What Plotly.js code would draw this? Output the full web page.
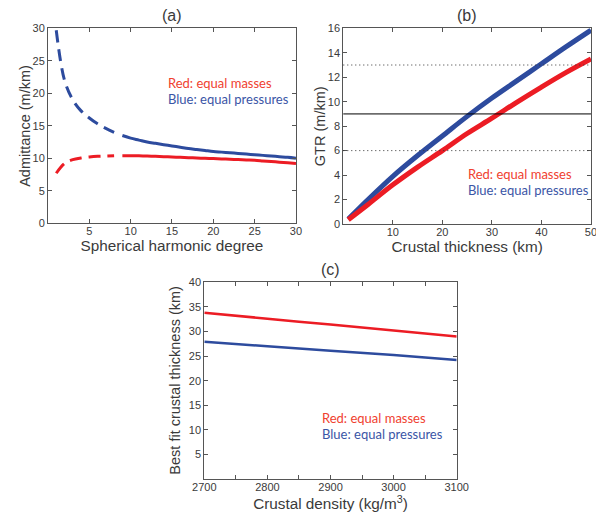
<!DOCTYPE html>
<html>
<head>
<meta charset="utf-8">
<script src="https://cdn.plot.ly/plotly-3.0.1.min.js"></script>
<style>html,body{margin:0;padding:0;background:#fff;}#chart{width:596px;height:512px;}</style>
</head>
<body>
<div id="chart"></div>
<script>
// Panel (a): admittance vs spherical harmonic degree
const degreeDashed = [1, 2, 3, 4, 5, 6, 7, 8];
const blueDashed   = [29.7, 22.0, 19.0, 17.3, 16.2, 15.3, 14.6, 14.0];
const redDashed    = [7.7, 9.2, 9.8, 10.05, 10.2, 10.3, 10.35, 10.4];
const degreeSolid  = [9, 10, 11, 12, 13, 14, 15, 16, 17, 18, 19, 20, 21, 22, 23, 24, 25, 26, 27, 28, 29, 30];
const blueSolid    = [13.5, 13.1, 12.8, 12.5, 12.3, 12.1, 11.9, 11.7, 11.5, 11.35, 11.2, 11.05, 10.95, 10.85, 10.75, 10.65, 10.55, 10.45, 10.35, 10.25, 10.15, 10.0];
const redSolid     = [10.4, 10.4, 10.38, 10.35, 10.3, 10.25, 10.2, 10.15, 10.1, 10.05, 10.0, 9.95, 9.9, 9.85, 9.8, 9.75, 9.7, 9.6, 9.5, 9.4, 9.3, 9.2];

// Panel (b): GTR vs crustal thickness
const thickness = [1, 5, 10, 15, 20, 25, 30, 35, 40, 45, 50];
const gtrBlue   = [0.4, 2.0, 3.9, 5.6, 7.2, 8.8, 10.3, 11.7, 13.1, 14.5, 15.85];
const gtrRed    = [0.35, 1.6, 3.2, 4.65, 6.0, 7.4, 8.65, 9.95, 11.2, 12.4, 13.5];
const gtrObserved = 9;
const gtrLow = 6;
const gtrHigh = 13;

// Panel (c): best-fit crustal thickness vs crustal density
const density   = [2700, 2800, 2900, 3000, 3100];
const bestRed   = [33.8, 32.6, 31.4, 30.2, 29.0];
const bestBlue  = [27.9, 27.0, 26.1, 25.2, 24.2];

// Labels
const titles = ["(a)", "(b)", "(c)"];
const xTitles = ["Spherical harmonic degree", "Crustal thickness (km)", "Crustal density (kg/m<sup>3</sup>)"];
const yTitles = ["Admittance (m/km)", "GTR (m/km)", "Best fit crustal thickness (km)"];
const legendRed = "Red: equal masses";
const legendBlue = "Blue: equal pressures";

const RED = "#ec1c24", BLUE = "#2d4b9e";
const RED_TXT = "#f0412f", BLUE_TXT = "#3a55a6";
const FONT = "Liberation Sans, Arial, sans-serif";
const LFONT = "Lato, sans-serif";
const TXT = "#3a3a3a";

const traces = [
  {x: degreeDashed, y: blueDashed, xaxis: "x", yaxis: "y", mode: "lines", line: {color: BLUE, width: 3, dash: "12px,7px", shape: "spline"}},
  {x: degreeDashed, y: redDashed, xaxis: "x", yaxis: "y", mode: "lines", line: {color: RED, width: 3, dash: "12px,7px", shape: "spline"}},
  {x: degreeSolid, y: blueSolid, xaxis: "x", yaxis: "y", mode: "lines", line: {color: BLUE, width: 3, shape: "spline"}},
  {x: degreeSolid, y: redSolid, xaxis: "x", yaxis: "y", mode: "lines", line: {color: RED, width: 3, shape: "spline"}},
  {x: thickness, y: gtrBlue, xaxis: "x2", yaxis: "y2", mode: "lines", line: {color: BLUE, width: 5, shape: "spline"}},
  {x: thickness, y: gtrRed, xaxis: "x2", yaxis: "y2", mode: "lines", line: {color: RED, width: 5, shape: "spline"}},
  {x: density, y: bestRed, xaxis: "x3", yaxis: "y3", mode: "lines", line: {color: RED, width: 2.5, shape: "spline"}},
  {x: density, y: bestBlue, xaxis: "x3", yaxis: "y3", mode: "lines", line: {color: BLUE, width: 2.5, shape: "spline"}}
];

function ax(domain, range, tickvals, anchor, extra) {
  return Object.assign({
    domain: domain, range: range, tickvals: tickvals, anchor: anchor,
    showgrid: false, zeroline: false, showline: true, mirror: "ticks",
    linecolor: "#555", linewidth: 1, ticks: "inside", ticklen: 4, tickcolor: "#555",
    ticklabeloverflow: "allow",
    tickfont: {family: FONT, size: 11, color: TXT}
  }, extra || {});
}
function xt(text, standoff) {
  return {text: text, font: {family: FONT, size: 15.3, color: TXT}, standoff: standoff};
}
function ytitle(text, xpx, yref) {
  return {text: text, xref: "paper", yref: yref, x: xpx / 596, y: 0.5, xanchor: "center", yanchor: "middle",
          textangle: -90, showarrow: false, font: {family: FONT, size: 14.5, color: TXT}};
}

const layout = {
  width: 596, height: 512,
  margin: {l: 0, r: 0, t: 0, b: 0},
  paper_bgcolor: "#fff", plot_bgcolor: "#fff",
  showlegend: false,
  xaxis:  ax([0.0805, 0.4966], [0, 30], [5, 10, 15, 20, 25, 30], "y", {title: xt(xTitles[0], 0), ticklabelstandoff: -2}),
  yaxis:  ax([0.5639, 0.9447], [0, 30], [0, 5, 10, 15, 20, 25, 30], "x"),
  xaxis2: ax([0.576, 0.9916], [0, 50], [10, 20, 30, 40, 50], "y2", {title: xt(xTitles[1], 1), ticklabelstandoff: -2}),
  yaxis2: ax([0.5625, 0.9447], [0, 16], [0, 2, 4, 6, 8, 10, 12, 14, 16], "x2"),
  xaxis3: ax([0.3428, 0.7663], [2700, 3100], [2700, 2750, 2800, 2850, 2900, 2950, 3000, 3050, 3100], "y3",
             {ticktext: ["2700", " ", "2800", " ", "2900", " ", "3000", " ", "3100"], ticklabelstandoff: -2, title: xt(xTitles[2], 3)}),
  yaxis3: ax([0.0645, 0.4486], [0, 40], [5, 10, 15, 20, 25, 30, 35, 40], "x3"),
  shapes: [
    {type: "line", xref: "x2 domain", yref: "y2", x0: 0, x1: 1, y0: gtrObserved, y1: gtrObserved, line: {color: "#000", width: 1}},
    {type: "line", xref: "x2 domain", yref: "y2", x0: 0, x1: 1, y0: gtrLow, y1: gtrLow, line: {color: "#333", width: 1, dash: "1px,3px"}},
    {type: "line", xref: "x2 domain", yref: "y2", x0: 0, x1: 1, y0: gtrHigh, y1: gtrHigh, line: {color: "#333", width: 1, dash: "1px,3px"}}
  ],
  annotations: [
    ytitle(yTitles[0], 25, "y domain"),
    ytitle(yTitles[1], 320, "y2 domain"),
    ytitle(yTitles[2], 175, "y3 domain"),
    {text: titles[0], xref: "x domain", yref: "y domain", x: 0.5, y: 1, yanchor: "bottom", yshift: 2, showarrow: false, font: {family: FONT, size: 16, color: TXT}},
    {text: titles[1], xref: "x2 domain", yref: "y2 domain", x: 0.5, y: 1, yanchor: "bottom", yshift: 2, showarrow: false, font: {family: FONT, size: 16, color: TXT}},
    {text: titles[2], xref: "x3 domain", yref: "y3 domain", x: 0.5, y: 1, yanchor: "bottom", yshift: 2, showarrow: false, font: {family: FONT, size: 16, color: TXT}},
    {text: legendRed, xref: "x domain", yref: "y domain", x: 0.475, y: 0.772, xanchor: "left", showarrow: false, font: {family: LFONT, size: 13, color: RED_TXT}},
    {text: legendBlue, xref: "x domain", yref: "y domain", x: 0.475, y: 0.69, xanchor: "left", showarrow: false, font: {family: LFONT, size: 13, color: BLUE_TXT}},
    {text: legendRed, xref: "x2 domain", yref: "y2 domain", x: 0.495, y: 0.205, xanchor: "left", showarrow: false, font: {family: LFONT, size: 13, color: RED_TXT}},
    {text: legendBlue, xref: "x2 domain", yref: "y2 domain", x: 0.495, y: 0.123, xanchor: "left", showarrow: false, font: {family: LFONT, size: 13, color: BLUE_TXT}},
    {text: legendRed, xref: "x3 domain", yref: "y3 domain", x: 0.46, y: 0.259, xanchor: "left", showarrow: false, font: {family: LFONT, size: 13, color: RED_TXT}},
    {text: legendBlue, xref: "x3 domain", yref: "y3 domain", x: 0.46, y: 0.177, xanchor: "left", showarrow: false, font: {family: LFONT, size: 13, color: BLUE_TXT}}
  ]
};

Plotly.newPlot("chart", traces, layout, {staticPlot: true, displayModeBar: false});
</script>
</body>
</html>
